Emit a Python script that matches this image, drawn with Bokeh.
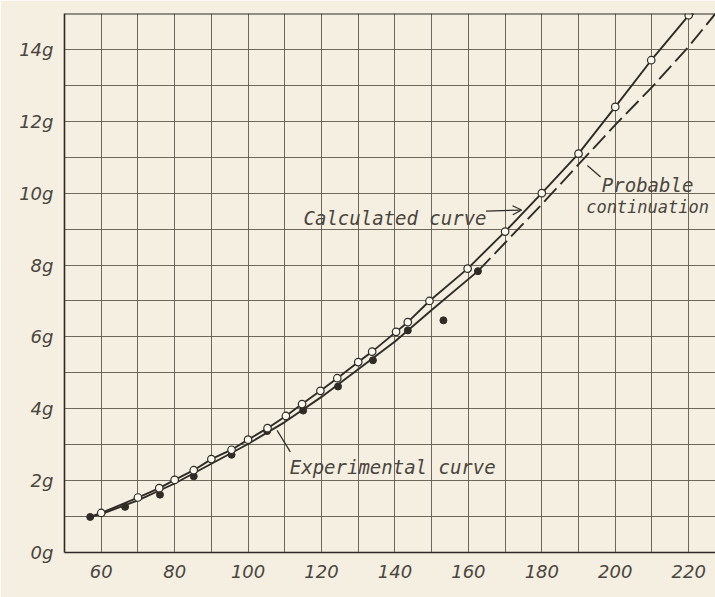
import math
from bokeh.plotting import figure
from bokeh.models import FixedTicker, Label, Arrow, OpenHead, Span
from bokeh.embed import file_html
from bokeh.resources import INLINE

# ---------------- data ----------------
# Calculated curve: open circles (speed mph, acceleration g)
calc_x = [60, 70, 75.8, 80, 85.2, 90, 95.5, 100, 105.3, 110.3, 114.7, 119.7, 124.3,
          130, 133.8, 140.3, 143.5, 149.4, 159.8, 170, 180, 190, 200, 209.8, 220]
calc_y = [1.10, 1.53, 1.79, 2.02, 2.29, 2.60, 2.86, 3.14, 3.46, 3.80, 4.13, 4.50, 4.85,
          5.30, 5.59, 6.14, 6.41, 7.00, 7.90, 8.93, 10.0, 11.1, 12.4, 13.7, 14.95]
# calculated curve line (starts at the first experimental point, runs to the top edge)
calc_line_x = [57] + calc_x + [221.4]
calc_line_y = [0.99] + calc_y + [15.0]

# Experimental curve: filled points
exp_x = [57, 66.5, 76, 85.2, 95.5, 105.2, 115, 124.5, 134, 143.5, 153.2, 162.6]
exp_y = [0.99, 1.27, 1.61, 2.12, 2.72, 3.38, 3.95, 4.62, 5.35, 6.18, 6.46, 7.83]
# experimental faired curve (solid part)
exp_line_x = [57, 60, 70, 80, 90, 100, 110, 120, 130, 140, 150, 162.6]
exp_line_y = [0.99, 1.07, 1.45, 1.92, 2.47, 3.02, 3.63, 4.33, 5.10, 5.87, 6.75, 7.83]
# probable continuation (dashed part)
cont_x = [162.6, 170, 180, 190, 200, 210, 220, 227.3]
cont_y = [7.83, 8.62, 9.69, 10.80, 11.90, 12.95, 14.08, 15.0]

x_ticks = [60, 80, 100, 120, 140, 160, 180, 200, 220]
x_grid = [50, 60, 70, 80, 90, 100, 110, 120, 130, 140, 150, 160, 170, 180, 190, 200, 210, 220]
y_ticks = [0, 2, 4, 6, 8, 10, 12, 14]
y_tick_labels = ["0g", "2g", "4g", "6g", "8g", "10g", "12g", "14g"]
y_grid = list(range(0, 16))

x_title = "Speed in M.P.H."
y_title = "Accelerations"

# ---------------- style ----------------
BG = "#f4efe0"
GRID = "#5f584e"
INK = "#2f2b27"
TEXT = "#4a453f"
FONT = "DejaVu Sans Mono"
TICKFONT = "DejaVu Sans"

p = figure(width=715, height=597, x_range=(50, 227.3), y_range=(0, 15),
           output_backend="svg", toolbar_location=None,
           min_border_left=64, min_border_right=0, min_border_top=13, min_border_bottom=45)
p.background_fill_color = BG
p.border_fill_color = BG
p.outline_line_color = None

# grid
p.xgrid.ticker = FixedTicker(ticks=x_grid)
p.ygrid.ticker = FixedTicker(ticks=y_grid)
for g in (p.xgrid, p.ygrid):
    g.grid_line_color = GRID
    g.grid_line_width = 1
    g.grid_line_alpha = 0.9

# axes
p.xaxis.ticker = FixedTicker(ticks=x_ticks)
p.yaxis.ticker = FixedTicker(ticks=y_ticks)
p.yaxis.major_label_overrides = {t: s for t, s in zip(y_ticks, y_tick_labels)}
for ax in (p.xaxis, p.yaxis):
    ax.axis_line_color = INK
    ax.axis_line_width = 1.6
    ax.major_tick_line_color = None
    ax.minor_tick_line_color = None
    ax.major_label_text_font = TICKFONT
    ax.major_label_text_font_style = "italic"
    ax.major_label_text_font_size = "18px"
    ax.major_label_text_color = TEXT
p.xaxis.major_label_standoff = 6
p.yaxis.major_label_standoff = 5

# top border
p.add_layout(Span(location=15, dimension="width", line_color=INK, line_width=2.2))

# curves
p.line(calc_line_x, calc_line_y, line_color=INK, line_width=1.9)
p.line(exp_line_x, exp_line_y, line_color=INK, line_width=1.9)
p.line(cont_x, cont_y, line_color=INK, line_width=1.9, line_dash="18 6")

# points
p.scatter(exp_x, exp_y, size=7, marker="circle", fill_color=INK, line_color=INK)
p.scatter(calc_x, calc_y, size=7.5, marker="circle", fill_color="#fbf8ee",
          line_color=INK, line_width=1.2)

# axis titles as labels
p.add_layout(Label(x=139.6, y=-0.95, text=x_title, text_font=FONT, text_font_style="italic",
                   text_font_size="17px", text_color=TEXT, text_align="center",
                   text_baseline="middle"))
p.add_layout(Label(x=38.0, y=7.0, text=y_title, text_font=FONT, text_font_style="italic",
                   text_font_size="18.5px", text_color=TEXT, text_align="center",
                   text_baseline="middle", angle=math.pi / 2))

# annotations
ann = dict(text_font=FONT, text_font_style="italic", text_font_size="19px",
           text_color=TEXT, text_baseline="alphabetic")
ann_small = dict(ann, text_font_size="17px")
p.add_layout(Label(x=115.1, y=9.32, text="Calculated curve", text_align="left", **ann))
p.add_layout(Label(x=111.35, y=2.37, text="Experimental curve", text_align="left", **ann))
p.add_layout(Label(x=208.8, y=10.23, text="Probable", text_align="center", **ann))
p.add_layout(Label(x=208.8, y=9.61, text="continuation", text_align="center", **ann_small))

p.add_layout(Arrow(end=OpenHead(size=9, line_color=INK, line_width=1.2),
                   x_start=164.8, y_start=9.50, x_end=174.5, y_end=9.53,
                   line_color=INK, line_width=1.2))
p.add_layout(Arrow(end=None, x_start=111.5, y_start=2.80, x_end=107.9, y_end=3.40,
                   line_color=INK, line_width=1.2))
p.add_layout(Arrow(end=None, x_start=196.0, y_start=10.45, x_end=192.4, y_end=10.77,
                   line_color=INK, line_width=1.2))

html = file_html(p, INLINE)
html = html.replace("<body>", '<body style="background-color:%s;">' % BG, 1)
open("out.html", "w").write(html)
